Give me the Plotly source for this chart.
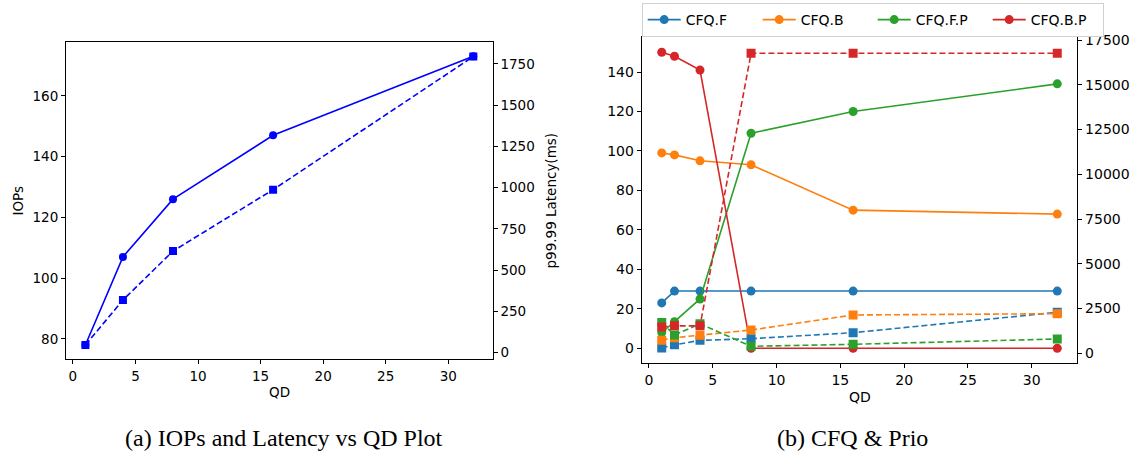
import plotly.graph_objects as go

# ---------------- data ----------------
qd_a = [1, 4, 8, 16, 32]
iops_a = [78, 107, 126, 147, 173]
lat_a = [47, 319, 616, 988, 1795]

qd_b = [1, 2, 4, 8, 16, 32]
series_names = ["CFQ.F", "CFQ.B", "CFQ.F.P", "CFQ.B.P"]
iops_cfq_f = [23, 29, 29, 29, 29, 29]
iops_cfq_b = [99, 98, 95, 93, 70, 68]
iops_cfq_fp = [8, 13.5, 25, 109, 120, 134]
iops_cfq_bp = [150, 148, 141, 0, 0, 0]
lat_cfq_f = [296, 475, 723, 816, 1151, 2290]
lat_cfq_b = [735, 870, 1014, 1302, 2140, 2212]
lat_cfq_fp = [1720, 1022, 1648, 390, 503, 799]
lat_cfq_bp = [1470, 1533, 1533, 16757, 16757, 16757]

x_ticks = [0, 5, 10, 15, 20, 25, 30]
iops_ticks_a = [80, 100, 120, 140, 160]
lat_ticks_a = [0, 250, 500, 750, 1000, 1250, 1500, 1750]
iops_ticks_b = [0, 20, 40, 60, 80, 100, 120, 140]
lat_ticks_b = [0, 2500, 5000, 7500, 10000, 12500, 15000, 17500]

colors = ["#1f77b4", "#ff7f0e", "#2ca02c", "#d62728"]

W, H = 1135, 453
FONT = "DejaVu Sans"

def px(x):
    return x / W

def py(y):
    return 1 - y / H

fig = go.Figure()

# ---------- panel (a) ----------
fig.add_trace(go.Scatter(x=qd_a, y=iops_a, mode="lines+markers", xaxis="x", yaxis="y",
                         line=dict(color="blue", width=1.6),
                         marker=dict(symbol="circle", size=8, color="blue"), showlegend=False))
fig.add_trace(go.Scatter(x=qd_a, y=lat_a, mode="lines+markers", xaxis="x", yaxis="y2",
                         line=dict(color="blue", width=1.6, dash="6px,3px"),
                         marker=dict(symbol="square", size=8, color="blue"), showlegend=False))

# ---------- panel (b) ----------
iops_b = [iops_cfq_f, iops_cfq_b, iops_cfq_fp, iops_cfq_bp]
lat_b = [lat_cfq_f, lat_cfq_b, lat_cfq_fp, lat_cfq_bp]
for name, c, yv in zip(series_names, colors, iops_b):
    fig.add_trace(go.Scatter(x=qd_b, y=yv, mode="lines+markers", name=name, xaxis="x2", yaxis="y3",
                             line=dict(color=c, width=1.6),
                             marker=dict(symbol="circle", size=9, color=c)))
for name, c, yv in zip(series_names, colors, lat_b):
    fig.add_trace(go.Scatter(x=qd_b, y=yv, mode="lines+markers", name=name + " lat", xaxis="x2", yaxis="y4",
                             line=dict(color=c, width=1.6, dash="6px,3px"),
                             marker=dict(symbol="square", size=9, color=c), showlegend=False))

axis_common = dict(showgrid=False, zeroline=False, showline=True, linecolor="black", linewidth=1,
                   ticks="outside", ticklen=4, tickwidth=1, tickcolor="black", automargin=False,
                   tickformat="d")

a_dom_x = [px(66), px(492.7)]
a_dom_y = [py(359.3), py(41.7)]
b_dom_x = [px(641.7), px(1077.3)]
b_dom_y = [py(362.7), py(37.3)]

fa = dict(family=FONT, size=13.5, color="black")
fb = dict(family=FONT, size=14, color="black")
fcap = dict(family="Liberation Serif", size=24, color="black")

def ann(text, x, y, font, angle=0):
    return dict(text=text, x=px(x), y=py(y), xref="paper", yref="paper", showarrow=False,
                xanchor="center", yanchor="middle", textangle=angle, font=font)

fig.update_layout(
    width=W, height=H,
    margin=dict(l=0, r=0, t=0, b=0, autoexpand=False),
    paper_bgcolor="white", plot_bgcolor="white",
    xaxis=dict(domain=a_dom_x, range=[-0.55, 33.55], tickvals=x_ticks, anchor="y",
               mirror=True, tickfont=fa, **axis_common),
    yaxis=dict(domain=a_dom_y, range=[73.3, 177.8], tickvals=iops_ticks_a, anchor="x",
               tickfont=fa, **axis_common),
    yaxis2=dict(range=[-40, 1885], tickvals=lat_ticks_a, overlaying="y", side="right", anchor="x",
                tickfont=fa, **axis_common),
    xaxis2=dict(domain=b_dom_x, range=[-0.57, 33.57], tickvals=x_ticks, anchor="y3",
                mirror=True, tickfont=fb, **axis_common),
    yaxis3=dict(domain=b_dom_y, range=[-7.3, 157.6], tickvals=iops_ticks_b, anchor="x2",
                tickfont=fb, **axis_common),
    yaxis4=dict(range=[-525, 17651], tickvals=lat_ticks_b, overlaying="y3", side="right", anchor="x2",
                tickfont=fb, **axis_common),
    legend=dict(orientation="h", x=px(641.7), xanchor="left", y=py(3), yanchor="top",
                bordercolor="#d0d0d0", borderwidth=1, bgcolor="white",
                font=dict(family=FONT, size=14, color="black"),
                entrywidth=67, entrywidthmode="pixels", itemwidth=33, tracegroupgap=0),
    annotations=[
        ann("IOPs", 18, 200.5, fa, -90),
        ann("p99.99 Latency(ms)", 551, 200.5, fa, -90),
        ann("QD", 279.5, 392, fa),
        ann("QD", 859.5, 396.5, fb),
        ann("(a) IOPs and Latency vs QD Plot", 284, 438, fcap),
        ann("(b) CFQ &amp; Prio", 852, 438, fcap),
    ],
)

fig.write_html("out.html", config={"displayModeBar": False},
               post_script="document.body.style.margin='0px';")
